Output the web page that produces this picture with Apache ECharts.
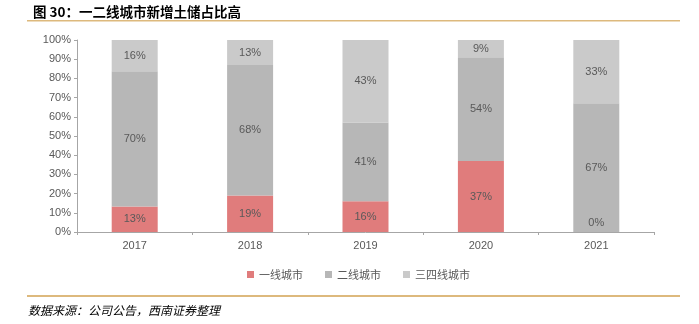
<!DOCTYPE html>
<html><head><meta charset="utf-8">
<script src="https://cdn.jsdelivr.net/npm/echarts@6/dist/echarts.min.js"></script>
<style>html,body{margin:0;padding:0;background:#fff}#c{width:699px;height:324px}</style>
</head><body><div id="c"></div>
<script>
const categories = ['2017','2018','2019','2020','2021'];
const tier1 = [13.3, 19, 16, 37, 0];
const tier2 = [70.4, 68, 41, 54, 67];
const tier34 = [16.3, 13, 43, 9, 33];
const seriesNames = ['一线城市','二线城市','三四线城市'];
const yTicks = [0,10,20,30,40,50,60,70,80,90,100];

const FONT = '"Liberation Sans", "Noto Sans CJK SC", sans-serif';
const colors = ['#E07C7C','#B7B7B7','#CACACA'];
const labelStyle = {show:true, position:'inside', color:'#595959', fontSize:11, fontFamily:FONT,
  formatter: p => Math.round(p.value) + '%'};

function mk(name, data, color, idx){
  return {
    name, type:'bar', stack:'s', barWidth:46,
    itemStyle:{color},
    label: labelStyle,
    data: data.map(v => (idx===0 && v===0) ? {value:v, label:{offset:[0,-9]}} : v),
    emphasis:{disabled:true}
  };
}

const chart = echarts.init(document.getElementById('c'), null, {renderer:'canvas'});
chart.setOption({
  animation:false,
  backgroundColor:'#fff',
  title:{text:'图 30：一二线城市新增土储占比高', left:28, top:0,
    textStyle:{fontSize:13.5, fontWeight:'bold', color:'#000', fontFamily:'"Noto Sans CJK SC", sans-serif'}},
  legend:{data:seriesNames, left:242, top:264, itemWidth:7, itemHeight:7, itemGap:22,
    icon:'rect',
    textStyle:{color:'#595959', fontSize:11, fontFamily:'"Noto Sans CJK SC", sans-serif'}},
  grid:{left:77, right:45, top:40, bottom:92, containLabel:false},
  xAxis:{type:'category', data:categories,
    axisLine:{lineStyle:{color:'#A6A6A6'}},
    axisTick:{show:true, alignWithLabel:false, length:3, lineStyle:{color:'#A6A6A6'}},
    axisLabel:{color:'#595959', fontSize:11, fontFamily:FONT, margin:8}},
  yAxis:{type:'value', min:0, max:100, interval:10,
    axisLine:{show:true, lineStyle:{color:'#A6A6A6'}},
    axisTick:{show:true, length:3, lineStyle:{color:'#A6A6A6'}},
    splitLine:{show:false},
    axisLabel:{color:'#595959', fontSize:11, fontFamily:FONT, margin:6,
      formatter: v => yTicks.includes(v) ? v + '%' : ''}},
  series:[mk(seriesNames[0], tier1, colors[0], 0), mk(seriesNames[1], tier2, colors[1], 1), mk(seriesNames[2], tier34, colors[2], 2)],
  graphic:[
    {type:'rect', shape:{x:27, y:20, width:653, height:1.5}, style:{fill:'#DDB97D'}},
    {type:'rect', shape:{x:27, y:295, width:653, height:2}, style:{fill:'#DDB97D'}},
    {type:'text', left:28, top:304, style:{text:'数据来源：公司公告，西南证券整理', fill:'#000',
      font:'italic 12px "Noto Sans CJK SC", sans-serif'}}
  ]
});
</script></body></html>
